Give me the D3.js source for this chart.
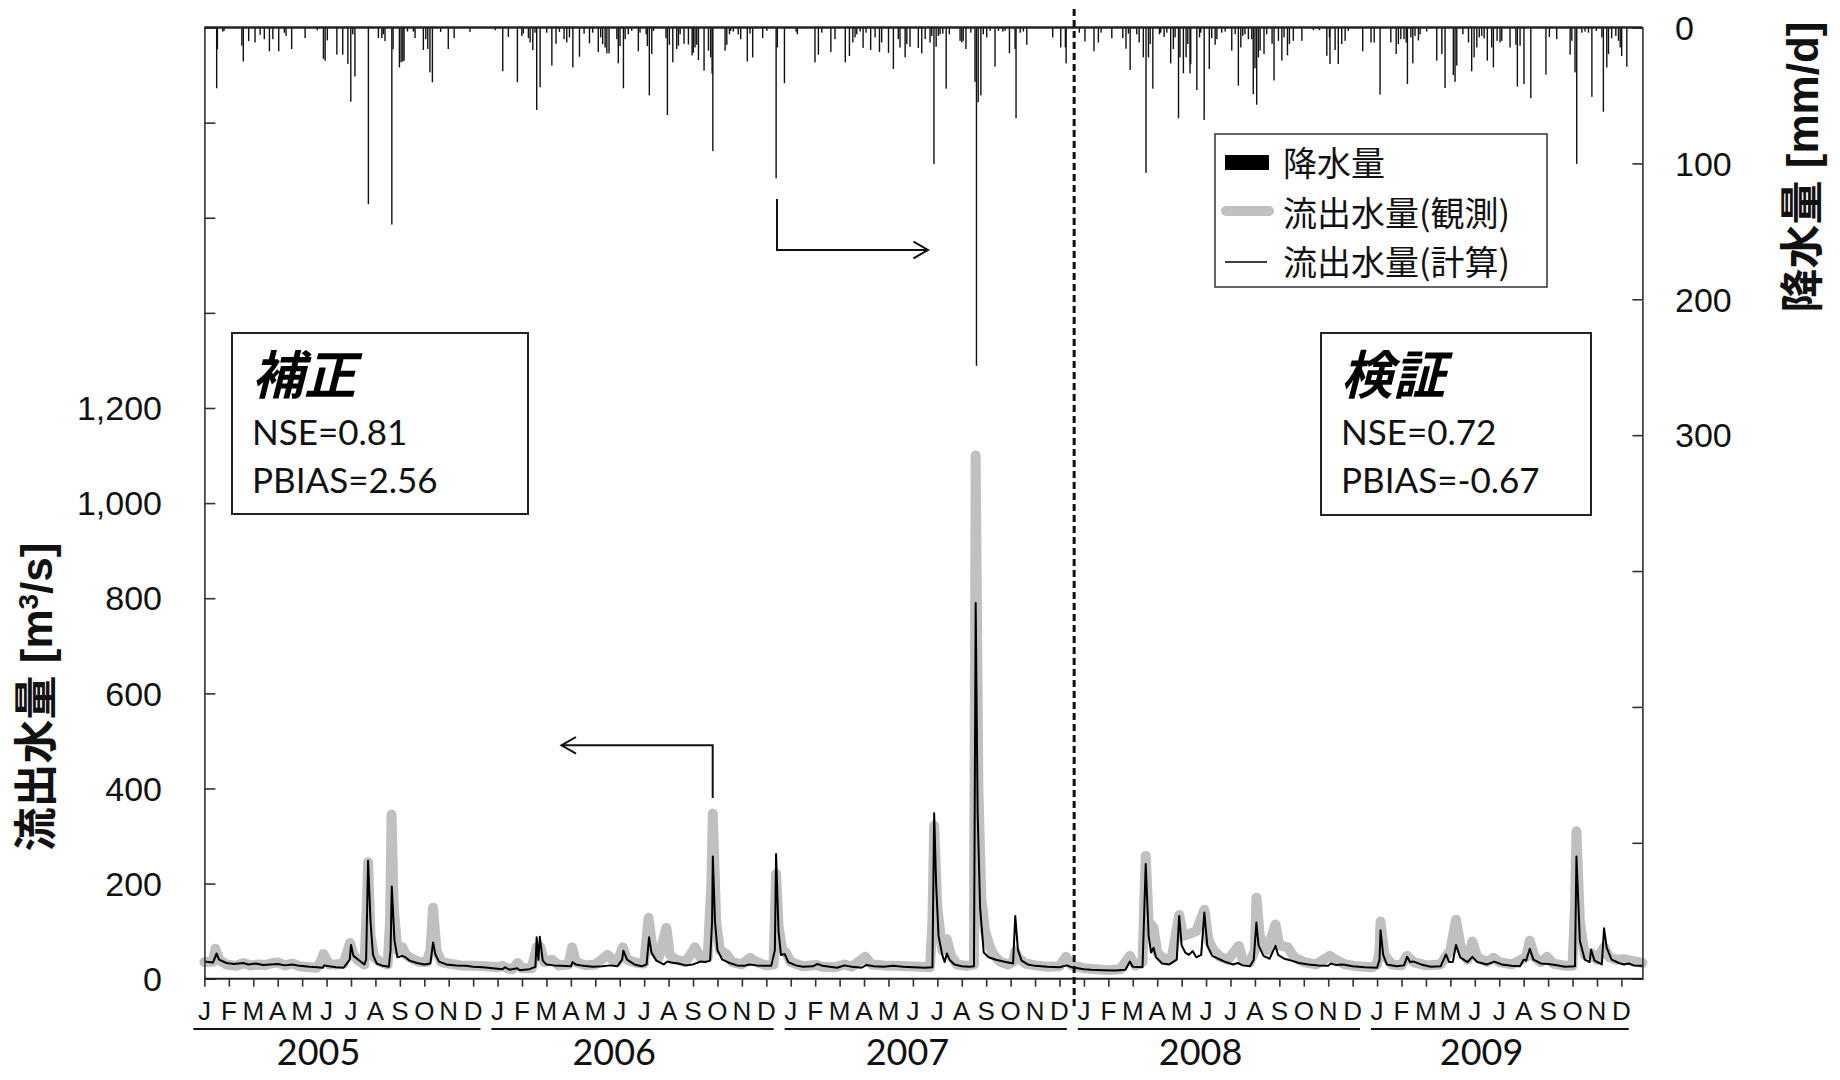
<!DOCTYPE html>
<html>
<head>
<meta charset="utf-8">
<script src="https://cdn.jsdelivr.net/npm/d3@7"></script>
<style>
  body { margin: 0; background: #fff; }
  svg { display: block; }
</style>
</head>
<body>
<svg id="chart" width="1840" height="1080"></svg>
<script>
// Time is measured in months since January 2005 (month ticks sit on integers).
const years = ["2005", "2006", "2007", "2008", "2009"];
const monthLabels = [
  ["J","F","M","A","M","J","J","A","S","O","N","D"],
  ["J","F","M","A","M","J","J","A","S","O","N","D"],
  ["J","F","M","A","M","J","J","A","S","O","N","D"],
  ["J","F","M","A","M","J","J","A","S","O","N","D"],
  ["J","F","M","M","J","J","A","S","O","N","D"]
];
const timeEnd = 58.86;
const splitMonth = 35.6;   // calibration | validation boundary

const flowTicks = [0,200,400,600,800,1000,1200,1400,1600,1800,2000];
const flowTickLabels = [0,200,400,600,800,1000,1200];
const rainTicks = [0,100,200,300,400,500,600,700];
const rainTickLabels = [0,100,200,300];

// daily precipitation [month, mm/d]
const rainfall = [
  [0.50,44.7],[0.53,16],[0.75,3],[0.80,2.5],[1.53,13.4],[1.59,25],[1.81,10],[2.07,11],[2.28,5.4],[2.45,8.6],
  [2.66,17.5],[2.80,8.6],[3.04,17.5],[3.27,3.8],[3.34,6.2],[3.57,15.8],[4.12,7.8],[4.62,2],[4.87,23],[4.94,24.5],
  [5.03,9.5],[5.42,20],[5.66,20],[5.87,26.8],[5.99,54.6],[6.07,5],[6.16,36],[6.71,130],[7.12,7.8],[7.26,7.8],
  [7.32,5],[7.39,10],[7.67,145],[7.72,16],[7.98,29.3],[8.05,25.6],[8.12,25],[8.17,24.4],[8.31,3],[8.55,3],
  [8.62,7.8],[8.96,16.6],[9.06,8.6],[9.14,15.8],[9.23,33],[9.33,40.3],[9.67,3.2],[9.98,15.8],[10.22,7.8],[10.87,3.2],
  [11.90,2],[12.21,32.2],[12.44,6.9],[12.81,40.3],[12.99,6.2],[13.05,4.5],[13.26,7.8],[13.33,11],[13.44,16.6],[13.53,3.8],
  [13.60,60.7],[13.74,44],[14.01,3.8],[14.22,28],[14.39,12],[14.53,3.2],[14.72,8.5],[14.83,11],[14.94,7.3],[15.08,29.3],
  [15.35,21.5],[15.54,4.5],[15.76,11.7],[15.89,3.8],[16.12,18],[16.22,7.3],[16.30,12.2],[16.40,14.7],[16.47,19],[16.56,19],
  [16.88,8.6],[16.94,26.4],[17.01,13.7],[17.15,44.7],[17.22,8.6],[17.35,5],[17.49,2.5],[17.76,17.5],[17.83,3.8],[18.08,5],
  [18.13,13.7],[18.21,50],[18.31,19.5],[18.38,2.5],[18.89,7.8],[18.95,64.4],[19.03,12.7],[19.17,25.6],[19.33,15.8],[19.40,13.4],
  [19.47,5],[19.63,12],[19.81,12.5],[19.96,20.5],[20.01,18.6],[20.08,14.7],[20.15,12.7],[20.22,24],[20.45,31.8],[20.63,17],
  [20.72,22],[20.78,34],[20.81,91],[21.31,17],[21.38,12.7],[21.49,5],[21.54,2.5],[21.65,3],[21.85,5],[21.95,8.6],
  [22.22,25],[22.33,4.5],[22.44,22],[22.85,7.8],[23.02,2.5],[23.40,111],[23.45,14.7],[23.74,41],[24.22,3],[24.27,5],
  [24.99,25.6],[25.13,20],[25.27,3.8],[25.64,18],[25.81,8.6],[26.23,25.6],[26.40,21],[26.54,11],[26.63,7.3],[26.70,5],
  [26.84,3],[26.96,15],[27.08,3.8],[27.27,16.6],[27.45,7.3],[27.63,18],[27.72,11],[28.00,18.6],[28.20,30.5],[28.40,8.6],
  [28.47,14.7],[28.68,22],[28.75,12.2],[28.88,14.2],[29.22,15],[29.36,19],[29.50,8.6],[29.70,11],[29.77,6.2],[29.86,100.4],
  [29.95,14.2],[30.04,6.2],[30.11,5],[30.22,4.5],[30.36,45],[30.49,5],[30.93,9.8],[31.00,11],[31.06,9.8],[31.17,15.8],
  [31.37,3.8],[31.54,40],[31.60,249],[31.67,55],[31.78,50],[31.88,5],[32.02,7.3],[32.16,2.5],[32.36,28.8],[32.50,2.5],
  [32.68,3],[32.77,2.5],[32.95,19],[33.18,15.8],[33.22,66.8],[33.39,3.8],[33.52,3],[33.66,12.7],[34.72,7.3],[35.05,14.7],
  [35.24,14.7],[35.27,26.4],[35.81,3.8],[36.04,10.3],[36.41,17.5],[36.59,11],[36.70,3.8],[37.14,8],[37.59,7.8],[37.72,15.6],
  [37.82,4.5],[37.89,31.3],[38.16,5],[38.26,11],[38.43,22],[38.54,107],[38.64,22],[38.71,12.2],[38.82,45],[39.09,5],
  [39.14,3.8],[39.28,7],[39.39,3.8],[39.55,26.4],[39.66,15.8],[39.73,7.3],[39.87,66.8],[39.93,22],[40.07,33.7],[40.18,22],
  [40.25,12.2],[40.34,33.7],[40.37,27],[40.62,46],[40.73,7.3],[40.78,3.8],[40.92,68],[41.13,30.5],[41.23,7.8],[41.37,12.7],
  [41.44,8.6],[41.64,3.8],[41.78,3],[42.05,17],[42.19,5],[42.32,42.8],[42.42,14.7],[42.50,6.2],[42.59,5],[42.73,8.6],
  [42.87,8.6],[42.93,49],[43.00,30],[43.07,56.8],[43.14,22],[43.21,17],[43.37,19.5],[43.48,5],[43.70,12],[43.78,39],
  [43.96,9.8],[44.10,24.4],[44.19,7.3],[44.33,20.5],[44.41,12.2],[44.57,9.8],[44.92,9.8],[45.39,2],[45.64,2],[45.94,20.8],
  [46.05,7.3],[46.07,26.8],[46.28,16.6],[46.41,26.8],[46.55,12.2],[46.69,9.8],[46.82,2.5],[47.41,17.5],[47.75,11],[47.88,11],
  [48.12,49.4],[48.56,11],[48.78,19.5],[48.87,12.2],[48.97,8.6],[49.10,8.6],[49.19,11],[49.24,41.6],[49.38,7.3],[49.46,26.4],
  [49.55,6.2],[49.69,9.5],[49.76,5],[50.03,3],[50.44,24.4],[50.65,19.5],[50.78,44.5],[51.12,35],[51.19,40],[51.26,28],
  [51.51,5],[51.74,11],[51.87,32.2],[51.97,22],[52.08,14.7],[52.18,7.3],[52.28,6.2],[52.38,8],[52.51,24.4],[52.69,14.7],
  [52.76,29.4],[52.91,9.8],[53.03,11],[53.10,9.8],[53.44,14.7],[53.68,12.7],[53.74,43.5],[53.85,13.4],[54.01,41.6],[54.29,51.9],
  [54.91,34.7],[55.05,7],[55.35,8.6],[55.90,20],[55.97,9.8],[56.10,33],[56.17,100.4],[56.38,3.8],[56.51,3],[56.65,3.8],
  [56.79,51],[56.97,2.5],[57.20,7.3],[57.26,62],[57.40,29.4],[57.47,19.5],[57.60,8],[57.77,6.2],[57.88,9.8],[57.95,14.7],
  [58.01,21],[58.22,28.8]
];

// observed discharge [month, m3/s]
const flowObserved = [
  [0.0,35],[0.35,36],[0.45,63],[0.6,40],[0.9,30],[1.3,27],[1.6,33],[1.9,28],[2.2,30],[2.5,29],[2.8,33],[3.0,34],
  [3.3,28],[3.6,32],[3.9,26],[4.3,24],[4.6,23],[4.8,40],[4.87,52],[4.95,45],[5.1,30],[5.4,30],[5.7,32],[5.96,75],
  [6.1,50],[6.3,38],[6.55,30],[6.65,150],[6.7,245],[6.8,90],[6.95,45],[7.2,35],[7.5,30],[7.6,120],[7.66,345],[7.75,150],
  [7.9,60],[8.1,66],[8.25,50],[8.5,42],[8.8,35],[9.1,35],[9.25,60],[9.36,149],[9.5,60],[9.7,35],[10.0,32],[10.5,28],
  [11.0,27],[11.5,26],[12.0,24],
  [12.2,27],[12.4,22],[12.6,20],[12.82,33],[13.0,22],[13.4,22],[13.6,66],[13.75,66],[13.9,35],[14.24,40],[14.5,28],
  [14.9,30],[15.05,66],[15.2,35],[15.6,28],[16.0,30],[16.5,50],[16.7,40],[16.9,35],[17.13,66],[17.3,40],[17.7,33],
  [18.0,32],[18.18,128],[18.35,60],[18.6,45],[18.91,107],[19.05,50],[19.3,40],[19.7,35],[20.08,66],[20.3,45],[20.6,45],
  [20.75,200],[20.81,347],[20.95,120],[21.1,60],[21.36,52],[21.6,35],[22.0,30],[22.34,44],[22.6,35],[23.0,28],[23.3,30],
  [23.4,220],[23.5,110],[23.65,60],[23.8,55],[24.0,35],
  [24.5,26],[25.06,29],[25.3,25],[25.8,24],[26.2,30],[26.5,25],[27.05,46],[27.3,30],[27.8,28],[28.3,27],[28.8,26],
  [29.3,25],[29.7,24],[29.8,120],[29.87,322],[30.0,150],[30.2,60],[30.39,83],[30.55,50],[30.8,30],[31.2,27],[31.5,30],
  [31.57,1100],[31.68,400],[31.8,170],[31.95,100],[32.2,60],[32.35,47],[32.6,35],[32.9,30],[33.1,35],[33.19,58],[33.3,45],
  [33.6,32],[34.0,28],[34.5,25],[35.0,26],[35.26,46],[35.5,28],[36.0,22],
  [36.5,20],[37.0,18],[37.5,20],[37.88,48],[38.1,28],[38.4,35],[38.53,258],[38.65,120],[38.85,107],[39.0,55],[39.3,40],
  [39.6,45],[39.9,134],[40.05,90],[40.3,94],[40.6,100],[40.93,145],[41.1,80],[41.3,60],[41.6,45],[41.9,40],[42.34,69],
  [42.5,40],[42.8,35],[43.0,60],[43.06,170],[43.2,90],[43.5,60],[43.84,114],[44.0,70],[44.35,66],[44.6,45],[45.0,35],
  [45.5,30],[46.07,48],[46.3,40],[46.7,30],[47.2,26],[47.8,24],[48.0,30],
  [48.1,60],[48.14,120],[48.3,50],[48.6,30],[49.0,28],[49.23,48],[49.5,35],[50.0,28],[50.6,30],[50.8,45],[51.0,60],
  [51.23,124],[51.45,60],[51.7,40],[51.9,78],[52.1,45],[52.5,35],[52.76,44],[53.0,35],[53.5,30],[53.9,40],[54.1,45],
  [54.25,80],[54.45,45],[54.7,35],[54.96,46],[55.2,32],[55.6,28],[56.0,27],[56.1,150],[56.16,310],[56.3,120],[56.5,50],
  [56.76,54],[57.0,40],[57.29,66],[57.5,45],[57.8,40],[58.1,41],[58.4,38],[58.86,33]
];

// simulated discharge [month, m3/s]
const flowCalculated = [
  [0.0,36],[0.35,34],[0.5,53],[0.6,40],[0.9,33],[1.2,31],[1.6,33],[1.8,30],[2.1,32],[2.4,29],[2.7,30],[3.0,31],
  [3.3,28],[3.6,30],[3.9,27],[4.3,25],[4.6,24],[4.85,23],[4.9,28],[5.1,26],[5.4,24],[5.7,23],[5.95,40],[6.0,71],
  [6.1,48],[6.3,40],[6.55,30],[6.62,40],[6.7,248],[6.8,120],[6.9,50],[7.05,32],[7.3,27],[7.55,25],[7.62,60],[7.67,194],
  [7.78,80],[7.9,45],[8.1,48],[8.2,46],[8.4,38],[8.7,33],[9.0,30],[9.25,32],[9.36,76],[9.45,52],[9.6,36],[9.9,30],
  [10.3,28],[10.7,27],[11.0,25],[11.4,24],[11.8,22],[12.0,21],
  [12.2,20],[12.3,24],[12.5,19],[12.8,22],[12.9,18],[13.3,20],[13.55,25],[13.6,87],[13.67,40],[13.73,88],[13.85,38],
  [14.0,30],[14.3,28],[14.6,27],[15.0,26],[15.07,35],[15.2,30],[15.5,27],[15.9,25],[16.3,26],[16.6,28],[16.9,26],
  [17.1,40],[17.15,59],[17.3,40],[17.6,30],[17.9,26],[18.1,30],[18.2,87],[18.3,55],[18.5,38],[18.8,30],[18.95,36],
  [19.1,34],[19.4,32],[19.7,28],[20.0,30],[20.3,36],[20.5,35],[20.7,38],[20.78,120],[20.81,257],[20.9,120],[21.0,60],
  [21.2,40],[21.5,33],[21.8,28],[22.1,27],[22.3,30],[22.6,28],[22.9,27],[23.2,27],[23.35,60],[23.4,262],[23.5,100],
  [23.6,50],[23.75,52],[23.9,35],[24.2,28],
  [24.5,25],[24.9,26],[25.1,31],[25.3,27],[25.6,25],[25.9,23],[26.2,28],[26.5,25],[26.9,23],[27.1,29],[27.4,26],
  [27.8,25],[28.2,27],[28.6,25],[29.0,24],[29.5,23],[29.8,24],[29.87,348],[29.95,200],[30.05,90],[30.2,50],[30.3,35],
  [30.39,53],[30.5,40],[30.7,30],[31.0,26],[31.3,25],[31.5,26],[31.57,790],[31.65,350],[31.75,150],[31.9,55],[32.1,45],
  [32.4,40],[32.8,35],[33.1,32],[33.19,132],[33.3,60],[33.45,38],[33.7,30],[34.0,27],[34.5,25],[35.0,24],[35.3,28],
  [35.5,24],[36.0,20],
  [36.3,19],[36.8,18],[37.3,17],[37.7,19],[37.88,36],[38.0,25],[38.4,24],[38.53,241],[38.65,90],[38.75,55],[38.85,65],
  [38.95,45],[39.2,32],[39.5,30],[39.8,40],[39.9,132],[40.0,70],[40.15,55],[40.3,50],[40.45,58],[40.6,45],[40.8,50],
  [40.93,139],[41.05,70],[41.25,48],[41.5,42],[41.8,35],[42.1,30],[42.3,33],[42.5,28],[42.8,26],[42.95,40],[43.06,118],
  [43.15,70],[43.35,48],[43.6,42],[43.84,69],[43.95,50],[44.2,42],[44.5,38],[44.8,33],[45.2,30],[45.6,28],[46.0,27],
  [46.1,32],[46.3,29],[46.6,30],[47.0,26],[47.5,24],[48.0,23],
  [48.1,40],[48.14,102],[48.25,50],[48.4,30],[48.8,26],[49.1,28],[49.23,46],[49.35,35],[49.5,36],[49.8,30],[50.2,25],
  [50.6,26],[50.82,51],[50.95,35],[51.1,35],[51.23,71],[51.4,45],[51.7,35],[51.9,46],[52.1,35],[52.5,30],[52.8,36],
  [53.1,30],[53.5,27],[53.85,26],[54.0,40],[54.1,38],[54.25,63],[54.4,40],[54.7,32],[55.0,31],[55.3,29],[55.7,25],
  [56.1,26],[56.16,257],[56.3,80],[56.5,40],[56.7,35],[56.76,61],[56.9,38],[57.2,30],[57.29,106],[57.4,65],[57.6,40],
  [57.9,33],[58.1,30],[58.3,32],[58.5,28],[58.86,27]
];

const periods = [
  { title: "補正", nse: "0.81", pbias: "2.56" },
  { title: "検証", nse: "0.72", pbias: "-0.67" }
];

const legendItems = [
  { label: "降水量", kind: "rain" },
  { label: "流出水量(観測)", kind: "obs" },
  { label: "流出水量(計算)", kind: "calc" }
];

// ---------------------------------------------------------------------------
const svg = d3.select("#chart");
const plot = { left: 204.4, right: 1642.4, top: 27.5, bottom: 978.7 };

const x = d3.scaleLinear().domain([0, timeEnd]).range([plot.left, plot.right]);
const yFlow = d3.scaleLinear().domain([0, 2000]).range([plot.bottom, plot.top]);
const yRain = d3.scaleLinear().domain([0, 700]).range([plot.top, plot.bottom]);

const SANS = "'Liberation Sans', Arial, sans-serif";
const CALI = "Lato, 'Open Sans', sans-serif";
const CJK = "'Noto Sans CJK JP', 'Noto Sans', sans-serif";

// discharge lines
const line = d3.line().x(d => x(d[0])).y(d => yFlow(d[1]));
svg.append("path").datum(flowObserved)
  .attr("d", line).attr("fill", "none")
  .attr("stroke", "#c0c0c0").attr("stroke-width", 10)
  .attr("stroke-linejoin", "round").attr("stroke-linecap", "round");
svg.append("path").datum(flowCalculated)
  .attr("d", line).attr("fill", "none")
  .attr("stroke", "#000").attr("stroke-width", 2)
  .attr("stroke-linejoin", "round");

// precipitation hanging from the top
svg.append("g").selectAll("rect").data(rainfall).join("rect")
  .attr("x", d => x(d[0]) - 0.65)
  .attr("width", 1.4)
  .attr("y", yRain(0))
  .attr("height", d => yRain(d[1]) - yRain(0))
  .attr("fill", "#111");

// left axis (discharge)
const leftAxis = d3.axisRight(yFlow).tickValues(flowTicks).tickSize(11).tickFormat("");
const gl = svg.append("g").attr("transform", `translate(${plot.left},0)`).call(leftAxis);
gl.select(".domain").attr("stroke", "#333").attr("stroke-width", 1.6);
gl.selectAll(".tick line").attr("stroke", "#333").attr("stroke-width", 1.6);
svg.append("g").selectAll("text").data(flowTickLabels).join("text")
  .attr("x", 162).attr("y", d => yFlow(d)).attr("dy", "0.36em")
  .attr("text-anchor", "end")
  .style("font-family", SANS).style("font-size", "34px").attr("fill", "#111")
  .text(d3.format(","));

// right axis (precipitation)
const rightAxis = d3.axisLeft(yRain).tickValues(rainTicks).tickSize(10).tickFormat("");
const gr = svg.append("g").attr("transform", `translate(${plot.right},0)`).call(rightAxis);
gr.select(".domain").attr("stroke", "#333").attr("stroke-width", 1.6);
gr.selectAll(".tick line").attr("stroke", "#333").attr("stroke-width", 1.6);
svg.append("g").selectAll("text").data(rainTickLabels).join("text")
  .attr("x", 1675).attr("y", d => yRain(d)).attr("dy", "0.36em")
  .attr("text-anchor", "start")
  .style("font-family", SANS).style("font-size", "34px").attr("fill", "#111")
  .text(d => d);

// top frame and bottom axis
svg.append("line").attr("x1", plot.left).attr("x2", plot.right)
  .attr("y1", plot.top).attr("y2", plot.top)
  .attr("stroke", "#222").attr("stroke-width", 2.4);

const monthTicks = d3.range(0, monthLabels.flat().length);
const bottomAxis = d3.axisBottom(x).tickValues(monthTicks).tickSize(8).tickFormat("");
const gb = svg.append("g").attr("transform", `translate(0,${plot.bottom})`).call(bottomAxis);
gb.select(".domain").attr("stroke", "#222").attr("stroke-width", 2).attr("d", `M${plot.left},0H${plot.right}`);
gb.selectAll(".tick line").attr("stroke", "#333").attr("stroke-width", 1.6);

// month letters, year underlines and year labels
let idx = 0;
monthLabels.forEach((labels, i) => {
  const first = idx;
  labels.forEach(l => {
    svg.append("text").attr("x", x(idx)).attr("y", 1020)
      .attr("text-anchor", "middle")
      .style("font-family", SANS).style("font-size", "26px").attr("fill", "#111")
      .text(l);
    idx++;
  });
  const last = idx - 1;
  const s = i === 0 ? first - 0.45 : first - 0.25;
  const e = Math.min(last + 0.3, timeEnd);
  svg.append("line").attr("x1", x(s)).attr("x2", x(e))
    .attr("y1", 1029).attr("y2", 1029)
    .attr("stroke", "#111").attr("stroke-width", 2.2);
  svg.append("text").attr("x", x((s + e) / 2 - 0.75)).attr("y", 1065)
    .attr("text-anchor", "middle")
    .style("font-family", CALI).style("font-size", "36px").attr("fill", "#111")
    .text(years[i]);
});

// calibration / validation divider
svg.append("line").attr("x1", x(splitMonth)).attr("x2", x(splitMonth))
  .attr("y1", 9).attr("y2", 1008)
  .attr("stroke", "#111").attr("stroke-width", 3)
  .attr("stroke-dasharray", "7,4");

// axis titles
svg.append("text")
  .attr("transform", "translate(52,697) rotate(-90)")
  .attr("text-anchor", "middle")
  .style("font-size", "44px").style("font-weight", "bold").attr("fill", "#111")
  .call(t => {
    t.append("tspan").style("font-family", CJK).text("流出水量");
    t.append("tspan").style("font-family", SANS).text(" [m");
    t.append("tspan").style("font-family", SANS).style("font-size", "28px").attr("dy", "-14").text("3");
    t.append("tspan").style("font-family", SANS).attr("dy", "14").text("/s]");
  });
svg.append("text")
  .attr("transform", "translate(1818,167) rotate(-90)")
  .attr("text-anchor", "middle")
  .style("font-size", "44px").style("font-weight", "bold").attr("fill", "#111")
  .call(t => {
    t.append("tspan").style("font-family", CJK).text("降水量");
    t.append("tspan").style("font-family", SANS).text(" [mm/d]");
  });

// statistics boxes
const boxes = [
  { x: 232, y: 333, w: 296, h: 181, tx: 252 },
  { x: 1321, y: 333, w: 270, h: 182, tx: 1341 }
];
periods.forEach((p, i) => {
  const b = boxes[i];
  const g = svg.append("g");
  g.append("rect").attr("x", b.x).attr("y", b.y).attr("width", b.w).attr("height", b.h)
    .attr("fill", "#fff").attr("stroke", "#222").attr("stroke-width", 2);
  g.append("text").attr("x", b.tx).attr("y", 394)
    .style("font-family", CJK).style("font-size", "52px")
    .style("font-weight", "bold").style("font-style", "italic").attr("fill", "#000")
    .text(p.title);
  g.append("text").attr("x", b.tx).attr("y", 445)
    .style("font-family", CALI).style("font-size", "35px").attr("fill", "#111")
    .text("NSE=" + p.nse);
  g.append("text").attr("x", b.tx).attr("y", 493)
    .style("font-family", CALI).style("font-size", "35px").attr("fill", "#111")
    .text("PBIAS=" + p.pbias);
});

// arrows pointing to the axis each series belongs to
const arrows = svg.append("g").attr("fill", "none").attr("stroke", "#111").attr("stroke-width", 2);
arrows.append("path").attr("d", "M712.7,798V745.3H561.5");
arrows.append("path").attr("d", "M576,737L561.5,745.3L576,753.6");
arrows.append("path").attr("d", "M777,199V250H928");
arrows.append("path").attr("d", "M913.5,241.7L928,250L913.5,258.3");

// legend
const lg = svg.append("g");
lg.append("rect").attr("x", 1215).attr("y", 134).attr("width", 332).attr("height", 153)
  .attr("fill", "#fff").attr("stroke", "#333").attr("stroke-width", 1.5);
const rowY = [164, 214, 263];
legendItems.forEach((it, i) => {
  const cy = rowY[i];
  if (it.kind === "rain") {
    lg.append("rect").attr("x", 1225).attr("y", cy - 9).attr("width", 44).attr("height", 15).attr("fill", "#000");
  } else if (it.kind === "obs") {
    lg.append("line").attr("x1", 1226).attr("x2", 1269).attr("y1", cy - 3).attr("y2", cy - 3)
      .attr("stroke", "#c0c0c0").attr("stroke-width", 10).attr("stroke-linecap", "round");
  } else {
    lg.append("line").attr("x1", 1225).attr("x2", 1267).attr("y1", cy - 1).attr("y2", cy - 1)
      .attr("stroke", "#000").attr("stroke-width", 1.6);
  }
  lg.append("text").attr("x", 1283).attr("y", cy).attr("dy", "0.36em")
    .style("font-family", CJK).style("font-size", "34px").attr("fill", "#111")
    .text(it.label);
});
</script>
</body>
</html>
